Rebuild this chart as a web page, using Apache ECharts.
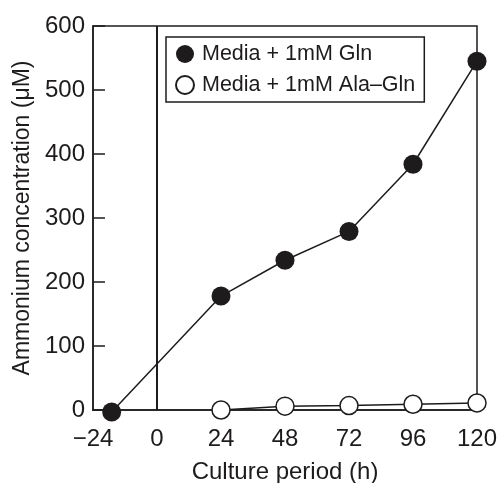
<!DOCTYPE html>
<html><head><meta charset="utf-8">
<script src="https://cdn.jsdelivr.net/npm/echarts@6/dist/echarts.min.js"></script>
<style>html,body{margin:0;padding:0;background:#fff}#c{width:500px;height:483px}</style>
</head><body><div id="c"></div>
<script>
const xTicks = [-24, 0, 24, 48, 72, 96, 120];
const glnX = [-17, 24, 48, 72, 96, 120];
const glnY = [-3, 178, 234, 279, 384, 545];
const alaX = [24, 48, 72, 96, 120];
const alaY = [0, 6, 7, 9, 11];
const seriesNames = ['Media + 1mM Gln', 'Media + 1mM Ala\u2013Gln'];
const xTitle = 'Culture period (h)';
const yTitle = 'Ammonium concentration (\u03bcM)';

const ink = '#1e1b1c';
const font = '"Liberation Sans", Arial, sans-serif';
const chart = echarts.init(document.getElementById('c'), null, {renderer: 'canvas'});
chart.setOption({
  animation: false,
  grid: {left: 93, right: 23, top: 26, bottom: 73, containLabel: false, outerBoundsMode: 'none',
    show: true, borderColor: ink, borderWidth: 1.5},
  legend: {
    orient: 'vertical', left: 166, top: 37, padding: [6, 9, 6, 9],
    borderColor: ink, borderWidth: 1.5, itemGap: 9,
    itemWidth: 18, itemHeight: 18, icon: 'circle',
    textStyle: {fontFamily: font, fontSize: 21.5, color: ink, padding: [0, 0, 0, 3]},
    data: seriesNames
  },
  xAxis: {
    type: 'value', min: -24, max: 120, interval: 24,
    axisLine: {show: true, onZero: false, lineStyle: {color: ink, width: 1.5}},
    axisTick: {show: false}, splitLine: {show: false},
    axisLabel: {fontFamily: font, fontSize: 24, color: ink, margin: 17,
      formatter: v => (v < 0 ? '\u2212' + Math.abs(v) : String(v))},
    name: xTitle, nameLocation: 'middle', nameGap: 50,
    nameTextStyle: {fontFamily: font, fontSize: 24, color: ink}
  },
  yAxis: {
    type: 'value', min: 0, max: 600, interval: 100,
    axisLine: {show: true, onZero: false, lineStyle: {color: ink, width: 1.5}},
    axisTick: {show: true, inside: true, length: 12, lineStyle: {color: ink, width: 1.5}},
    splitLine: {show: false},
    axisLabel: {fontFamily: font, fontSize: 24, color: ink, margin: 8},
    name: yTitle, nameLocation: 'middle', nameGap: 58,
    nameTextStyle: {fontFamily: font, fontSize: 23, color: ink}
  },
  series: [
    {
      name: seriesNames[0], type: 'line', clip: false,
      data: glnX.map((x, i) => [x, glnY[i]]),
      symbol: 'circle', symbolSize: 19,
      lineStyle: {color: ink, width: 1.5},
      itemStyle: {color: ink, borderColor: ink, borderWidth: 0},
      markLine: {
        silent: true, symbol: 'none', label: {show: false},
        lineStyle: {color: ink, width: 2, type: 'solid'},
        data: [{xAxis: 0}]
      },
      z: 3
    },
    {
      name: seriesNames[1], type: 'line', clip: false,
      data: alaX.map((x, i) => [x, alaY[i]]),
      symbol: 'circle', symbolSize: 18,
      lineStyle: {color: ink, width: 1.5},
      itemStyle: {color: '#ffffff', borderColor: ink, borderWidth: 1.5},
      z: 4
    }
  ]
});
</script></body></html>
